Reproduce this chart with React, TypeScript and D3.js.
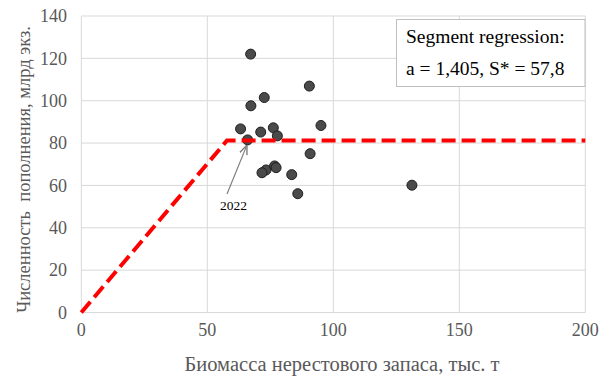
import React from 'react';
import * as d3 from 'd3';

// spawning stock biomass (thous. t) vs recruitment (bln ind.)
const biomass = [67.2, 90.5, 72.6, 67.3, 95.1, 63.2, 71.2, 76.2, 77.8, 66.0, 90.8, 73.3, 71.7, 76.7, 77.3, 83.5, 85.9, 131.2];
const recruits = [122.0, 106.9, 101.5, 97.6, 88.3, 86.7, 85.2, 87.2, 83.4, 81.5, 75.0, 67.3, 66.0, 69.2, 68.4, 65.1, 56.1, 60.1];

// segment regression parameters
const slopeA = 1.405;
const breakS = 57.8;

const xTicks = [0, 50, 100, 150, 200];
const yTicks = [0, 20, 40, 60, 80, 100, 120, 140];

const W = 600;
const H = 379;
const serif = { fontFamily: "'Liberation Serif', 'DejaVu Serif', serif" };

export default function App() {
  const x = d3.scaleLinear().domain([0, 200]).range([81.3, 585.3]);
  const y = d3.scaleLinear().domain([0, 140]).range([312.5, 16]);

  const plateau = slopeA * breakS;
  const segLine = d3.line<[number, number]>()
    .x(d => x(d[0]))
    .y(d => y(d[1]));
  const segPts: [number, number][] = [[0, 0], [breakS, plateau], [200, plateau]];

  // 2022 point sits right on the breakpoint
  const i22 = 9;
  const px = x(biomass[i22]);
  const py = y(recruits[i22]);

  return (
    <svg width={W} height={H} style={{ position: 'absolute', left: 0, top: 0, background: '#fff' }}>
      <defs>
        <marker id="arr" viewBox="0 0 10 10" refX="9" refY="5" markerWidth="8" markerHeight="8" orient="auto-start-reverse">
          <path d="M0,1 L10,5 L0,9" fill="none" stroke="#7f7f7f" strokeWidth="1.5" />
        </marker>
      </defs>

      {/* grid */}
      {yTicks.map(t => (
        <line key={'gy' + t} x1={x(0)} x2={x(200)} y1={y(t)} y2={y(t)} stroke="#d9d9d9" strokeWidth={1} />
      ))}
      {xTicks.map(t => (
        <line key={'gx' + t} x1={x(t)} x2={x(t)} y1={y(0)} y2={y(140)} stroke="#d9d9d9" strokeWidth={1} />
      ))}

      {/* tick labels */}
      {yTicks.map(t => (
        <text key={'ly' + t} x={67} y={y(t)} dy="0.35em" textAnchor="end" style={serif} fontSize={18} fill="#595959">
          {t}
        </text>
      ))}
      {xTicks.map(t => (
        <text key={'lx' + t} x={x(t)} y={336} textAnchor="middle" style={serif} fontSize={18} fill="#595959">
          {t}
        </text>
      ))}

      {/* axis titles */}
      <text x={342} y={371} textAnchor="middle" style={serif} fontSize={20.5} fill="#595959">
        Биомасса нерестового запаса, тыс. т
      </text>
      <text transform="translate(29.5,169.5) rotate(-90)" textAnchor="middle" style={{ ...serif, whiteSpace: 'pre' }} fontSize={18.5} fill="#595959">
        {'Численность  пополнения, млрд экз.'}
      </text>

      {/* points */}
      {biomass.map((b, i) => (
        <circle key={i} cx={x(b)} cy={y(recruits[i])} r={5} fill="#4a4a4a" stroke="#1e1e1e" strokeWidth={1} />
      ))}

      {/* segment regression */}
      <path d={segLine(segPts) || ''} fill="none" stroke="#ff0000" strokeWidth={4} strokeDasharray="14 6" />

      {/* 2022 annotation */}
      <line x1={227} y1={194} x2={px - 1} y2={py + 6} stroke="#7f7f7f" strokeWidth={1.2} markerEnd="url(#arr)" />
      <text x={233.5} y={210} textAnchor="middle" style={serif} fontSize={13.5} fill="#000">
        2022
      </text>

      {/* legend box */}
      <rect x={396.5} y={19.5} width={188.5} height={67} fill="#fff" stroke="#bfbfbf" strokeWidth={1} />
      <text x={406} y={43} style={serif} fontSize={19.5} fill="#000">Segment regression:</text>
      <text x={406} y={75} style={serif} fontSize={19.5} fill="#000">a = 1,405, S* = 57,8</text>
    </svg>
  );
}
